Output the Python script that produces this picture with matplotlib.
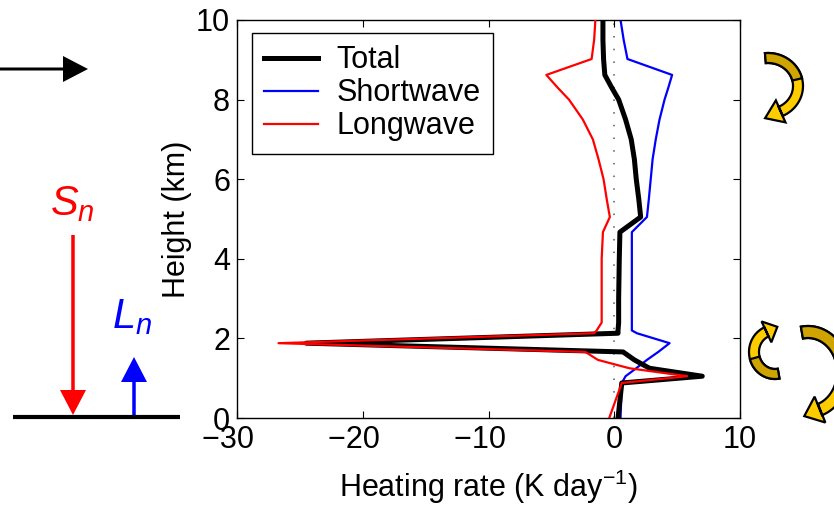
import numpy as np
import matplotlib
matplotlib.use("Agg")
import matplotlib.pyplot as plt
from matplotlib.patches import Polygon

plt.rcParams['font.family'] = ['Liberation Sans', 'DejaVu Sans']
plt.rcParams['mathtext.fontset'] = 'custom'
plt.rcParams['mathtext.it'] = 'Liberation Sans:italic'
plt.rcParams['mathtext.rm'] = 'Liberation Sans'

# heights (km) and heating rates (K/day)
height = [0.0, 0.88, 1.05, 1.25, 1.46, 1.66, 1.88, 2.13, 2.2, 2.4, 3.0, 4.0, 4.67,
          5.05, 5.5, 6.0, 6.5, 7.0, 7.5, 8.0, 8.3, 8.62, 9.02, 9.5, 10.0]
total = [0.3, 0.6, 7.0, 2.8, 1.6, 0.7, -24.5, 0.3, 0.3, 0.35, 0.35, 0.4, 0.45,
         2.1, 1.95, 1.75, 1.6, 1.35, 0.9, 0.35, -0.2, -0.75, -0.85, -0.9, -0.9]
shortwave = [0.5, 0.6, 0.9, 1.75, 2.6, 3.5, 4.4, 1.8, 1.4, 1.4, 1.4, 1.4, 1.4,
             2.6, 2.75, 2.9, 3.05, 3.3, 3.6, 4.0, 4.3, 4.6, 1.05, 0.75, 0.5]
longwave = [-0.4, 0.6, 5.8, 1.2, -1.3, -2.3, -26.7, -1.6, -1.4, -1.0, -1.0, -1.0, -0.9,
            -0.35, -0.6, -0.85, -1.25, -1.7, -2.5, -3.6, -4.5, -5.4, -1.8, -1.6, -1.5]

xticks = [-30, -20, -10, 0, 10]
# minus sign hangs to the left of the centred digits, as in the original
xticklabels = ['\u221230\u2007', '\u221220\u2007', '\u221210\u2007', '0', '10']
yticks = [0, 2, 4, 6, 8, 10]

W, H = 834, 507
fig = plt.figure(figsize=(W / 100, H / 100), dpi=100)

ax = fig.add_axes([237 / W, 1 - 418 / H, 503 / W, 398 / H])
ax.axvline(0, color='0.35', ls=(0, (1, 7.3)), lw=1.1, zorder=1)
ax.plot(total, height, color='black', lw=3.6, label='Total', zorder=3)
ax.plot(shortwave, height, color='#0000ff', lw=1.6, label='Shortwave', zorder=2)
ax.plot(longwave, height, color='#ff0000', lw=1.6, label='Longwave', zorder=4)
ax.set_xlim(-30, 10)
ax.set_ylim(0, 10)
ax.set_xticks(xticks)
ax.set_xticklabels(xticklabels)
ax.set_yticks(yticks)
ax.tick_params(direction='in', top=True, right=True, length=5, width=0.8,
               labelsize=22, pad=5)
for s in ax.spines.values():
    s.set_linewidth(1.0)
ax.set_xlabel('Heating rate (K day$^{\\mathregular{-1}}$)', fontsize=22, labelpad=9)
ax.set_ylabel('Height (km)', fontsize=22, labelpad=3)

leg = ax.legend(loc='upper left', bbox_to_anchor=(15 / 503, 1 - 13 / 398),
                borderaxespad=0, fontsize=22, fancybox=False, framealpha=1,
                edgecolor='black', handlelength=1.77, handletextpad=0.6,
                labelspacing=0.1, borderpad=0.4)
leg.get_frame().set_linewidth(1.0)

# overlay in pixel coordinates for the schematic arrows
deco = fig.add_axes([0, 0, 1, 1])
deco.set_xlim(0, W)
deco.set_ylim(H, 0)
deco.axis('off')
deco.patch.set_visible(False)

deco.arrow(0, 69, 88, 0, width=3, head_width=26, head_length=25,
           length_includes_head=True, color='black', lw=0)
deco.plot([13, 180], [417, 417], color='black', lw=3, solid_capstyle='butt')
deco.arrow(73, 235, 0, 180, width=3.5, head_width=26, head_length=25,
           length_includes_head=True, color='#ff0000', lw=0)
deco.arrow(134, 415, 0, -58, width=3.5, head_width=26, head_length=25,
           length_includes_head=True, color='#0000ff', lw=0)
deco.text(50, 215, '$S_n$', color='#ff0000', fontsize=30, ha='left', va='baseline')
deco.text(112, 328, '$L_n$', color='#0000ff', fontsize=30, ha='left', va='baseline')


def curved_arrow(cx, cy, rx, ry, a0, a1, w=10, hw=24, hl=16, split=0.5):
    t = np.radians(np.linspace(a0, a1, 60))
    ux, uy = np.cos(t), np.sin(t)
    outer = np.c_[cx + (rx + w / 2) * ux, cy + (ry + w / 2) * uy]
    inner = np.c_[cx + (rx - w / 2) * ux, cy + (ry - w / 2) * uy]
    k = int(len(t) * split)
    back = np.r_[outer[:k + 1], inner[:k + 1][::-1]]
    end = np.array([cx + rx * ux[-1], cy + ry * uy[-1]])
    tan = np.array([-rx * np.sin(t[-1]), ry * np.cos(t[-1])])
    tan /= np.hypot(*tan)
    nrm = np.array([-tan[1], tan[0]])
    head = [end + nrm * hw / 2, end + tan * hl, end - nrm * hw / 2]
    body = np.r_[outer, head, inner[::-1]]
    deco.add_patch(Polygon(body, closed=True, fc='#ffcc00', ec='black', lw=1.6, zorder=5))
    deco.add_patch(Polygon(back, closed=True, fc='#cfa300', ec='black', lw=1.6, zorder=6))


curved_arrow(768, 86, 30, 28, -95, 65, hl=17)
curved_arrow(775, 352, 21, 22, 80, 246, w=10, hw=23, hl=12)
curved_arrow(808, 372, 35, 40, -100, 70, w=12, hw=28, hl=17)

fig.savefig('out.png', dpi=100)
